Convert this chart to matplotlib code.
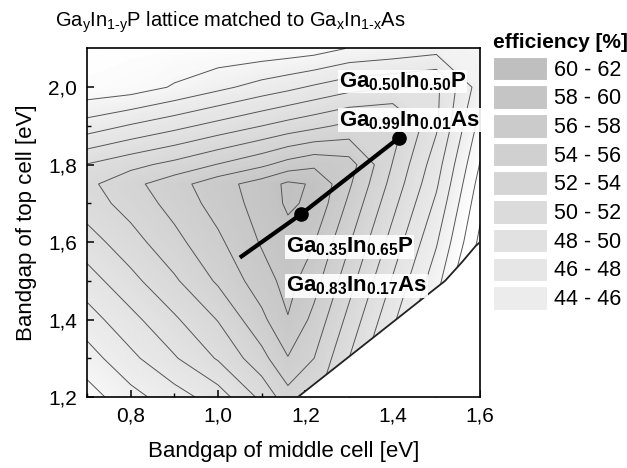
import numpy as np
import matplotlib
matplotlib.use("Agg")
import matplotlib.pyplot as plt
from matplotlib.colors import LinearSegmentedColormap, Normalize
from matplotlib.patches import Patch, Polygon

plt.rcParams['font.family'] = ['Liberation Sans', 'DejaVu Sans']
plt.rcParams['mathtext.fontset'] = 'custom'
plt.rcParams['mathtext.rm'] = 'Liberation Sans'
plt.rcParams['mathtext.it'] = 'Liberation Sans:italic'
plt.rcParams['mathtext.bf'] = 'Liberation Sans:bold'

# ---------------- data ----------------
bandgap_middle = [0.70, 0.80, 0.90, 1.00, 1.10, 1.16, 1.22, 1.30, 1.40, 1.50, 1.60]
bandgap_top = [1.20, 1.30, 1.40, 1.50, 1.60, 1.70, 1.75, 1.80, 1.90, 2.00, 2.10]
# efficiency [%], one row per top-cell bandgap, one column per middle-cell bandgap
eff_120 = [41.1, 43.3, 45.1, 47.0, 50.5, 53.2, 52.6, 48.6, 43.6, 38.6, 31.6]
eff_130 = [43.1, 45.5, 47.8, 50.2, 53.3, 55.9, 54.0, 50.0, 45.0, 40.0, 33.0]
eff_140 = [45.1, 47.4, 49.7, 52.1, 55.5, 57.9, 55.4, 51.4, 46.4, 41.4, 34.4]
eff_150 = [47.1, 49.4, 51.7, 54.3, 57.1, 58.7, 56.8, 52.8, 47.8, 42.8, 35.8]
eff_160 = [49.1, 51.2, 53.4, 55.6, 58.2, 59.3, 58.1, 54.2, 49.2, 44.2, 37.5]
eff_170 = [51.0, 52.8, 54.7, 56.8, 58.8, 60.3, 59.6, 55.6, 50.6, 45.6, 38.6]
eff_175 = [51.5, 53.4, 55.2, 57.2, 58.9, 60.4, 59.8, 56.3, 51.3, 46.3, 39.2]
eff_180 = [50.1, 51.4, 52.6, 54.1, 55.6, 56.8, 57.6, 56.9, 51.9, 46.9, 39.9]
eff_190 = [44.9, 46.2, 47.4, 48.7, 50.0, 50.8, 51.5, 52.5, 53.0, 48.3, 41.3]
eff_200 = [40.6, 41.0, 42.2, 43.5, 44.8, 45.5, 46.3, 47.3, 47.8, 48.4, 43.0]
eff_210 = [40.2, 40.3, 40.4, 40.5, 40.6, 40.8, 41.1, 42.1, 42.6, 43.2, 42.5]

# border of the region without data (lower right)
boundary_x = [1.183, 1.52, 1.56, 1.59, 1.60]
boundary_y = [1.20, 1.50, 1.55, 1.59, 1.60]

# lattice-matched line and the two marked points
lattice_x = [1.05, 1.19, 1.415]
lattice_y = [1.56, 1.672, 1.87]
marked_x = [1.19, 1.415]
marked_y = [1.672, 1.87]

# composition labels (left / baseline anchor)
comp_texts = [r'$\mathbf{Ga_{0.50}In_{0.50}P}$', r'$\mathbf{Ga_{0.99}In_{0.01}As}$',
              r'$\mathbf{Ga_{0.35}In_{0.65}P}$', r'$\mathbf{Ga_{0.83}In_{0.17}As}$']
comp_x = [1.277, 1.277, 1.155, 1.155]
comp_y = [2.000, 1.900, 1.573, 1.472]

legend_low = [60, 58, 56, 54, 52, 50, 48, 46, 44]
legend_high = [62, 60, 58, 56, 54, 52, 50, 48, 46]

x_ticks = [0.8, 1.0, 1.2, 1.4, 1.6]
x_tick_labels = ['0,8', '1,0', '1,2', '1,4', '1,6']
x_minor = [0.7, 0.9, 1.1, 1.3, 1.5]
y_ticks = [1.2, 1.4, 1.6, 1.8, 2.0]
y_tick_labels = ['1,2', '1,4', '1,6', '1,8', '2,0']
y_minor = [1.3, 1.5, 1.7, 1.9]

# ---------------- figure ----------------
fig = plt.figure(figsize=(6.27, 4.68), dpi=100)
ax = fig.add_axes([0.1388, 0.1517, 0.6268, 0.7447])

Z = np.array([eff_120, eff_130, eff_140, eff_150, eff_160, eff_170,
              eff_175, eff_180, eff_190, eff_200, eff_210])
X, Y = np.meshgrid(bandgap_middle, bandgap_top)

cmap = LinearSegmentedColormap.from_list(
    'eff', [(0.0, (1, 1, 1)), (4 / 22, (0.935, 0.935, 0.935)), (1.0, (0.74, 0.74, 0.74))])
norm = Normalize(vmin=40, vmax=62)

ax.contourf(X, Y, Z, levels=np.arange(28, 62.01, 0.25), cmap=cmap, norm=norm, zorder=1)
ax.contour(X, Y, Z, levels=np.arange(30, 62.1, 2), colors='#555555', linewidths=0.7, zorder=2)

poly_pts = np.column_stack([boundary_x + [1.60], boundary_y + [1.20]])
ax.add_patch(Polygon(poly_pts, closed=True, facecolor='white', edgecolor='none', zorder=2.5))
ax.plot(boundary_x, boundary_y, color='#222222', lw=1.3, zorder=2.6)

ax.plot(lattice_x, lattice_y, color='black', lw=3.0, solid_capstyle='butt', zorder=4)
ax.plot(marked_x, marked_y, 'o', color='black', ms=9.5, zorder=4.5, linestyle='none')

for t, cx, cy in zip(comp_texts, comp_x, comp_y):
    ax.text(cx, cy, t, fontsize=16, ha='left', va='baseline', zorder=5,
            bbox=dict(facecolor='white', edgecolor='none', pad=0.5, alpha=0.9))

ax.set_xlim(0.7, 1.6)
ax.set_ylim(1.2, 2.1)
ax.set_xticks(x_ticks)
ax.set_xticklabels(x_tick_labels)
ax.set_xticks(x_minor, minor=True)
ax.set_yticks(y_ticks)
ax.set_yticklabels(y_tick_labels)
ax.set_yticks(y_minor, minor=True)
ax.tick_params(which='major', direction='in', length=5, width=1.1, labelsize=15, pad=7)
ax.tick_params(which='minor', direction='in', length=3, width=1.0)
for s in ax.spines.values():
    s.set_linewidth(1.2)

ax.set_xlabel('Bandgap of middle cell [eV]', fontsize=16, labelpad=11)
ax.set_ylabel('Bandgap of top cell [eV]', fontsize=16, labelpad=8)

fig.text(55 / 627, 1 - 27 / 468,
         r'Ga$_\mathregular{y}$In$_\mathregular{1\text{-}y}$P lattice matched to '
         r'Ga$_\mathregular{x}$In$_\mathregular{1\text{-}x}$As',
         fontsize=14.5, ha='left', va='baseline')

handles = [Patch(facecolor=cmap(norm((lo + hi) / 2)), edgecolor='white', lw=0.8)
           for lo, hi in zip(legend_low, legend_high)]
labels = [f'{lo} - {hi}' for lo, hi in zip(legend_low, legend_high)]
leg = fig.legend(handles, labels, loc='upper left', bbox_to_anchor=(493 / 627, 1 - 33 / 468),
                 frameon=False, title='efficiency [%]',
                 title_fontproperties={'weight': 'bold', 'size': 15},
                 alignment='left', fontsize=15.5, handlelength=2.5, handleheight=1.3,
                 labelspacing=0.22, handletextpad=0.35, borderpad=0, borderaxespad=0)

fig.savefig('out.png', dpi=100)
